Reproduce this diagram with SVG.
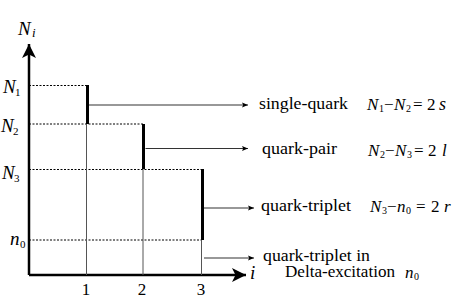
<svg xmlns="http://www.w3.org/2000/svg" width="459" height="300" viewBox="0 0 459 300">
<defs>
<style>
text{font-family:'Liberation Serif','DejaVu Serif',serif;fill:#000}
.lbl{font-size:16px}
.tick{font-size:17px}
.big{font-style:italic;font-size:19px}
.eq{font-style:italic;font-size:17px}
.up{font-style:normal}
.sb{font-size:11px;font-style:normal}
.ss{font-size:10px;font-style:normal}
.dash{stroke:#000;stroke-width:1;stroke-dasharray:2,1.5;fill:none}
.thin{stroke:#555;stroke-width:1;fill:none}
.thick{stroke:#000;stroke-width:3;fill:none}
.axis{stroke:#000;stroke-width:2.5;fill:none}
.conn{stroke:#333;stroke-width:1.2;fill:none}
</style>
<marker id="ah" viewBox="0 0 10 10" refX="10" refY="5" markerWidth="8" markerHeight="6" markerUnits="userSpaceOnUse" orient="auto">
<path d="M0,1 L10,5 L0,9 L2,5 Z" fill="#000"/>
</marker>
<marker id="big" viewBox="0 0 12 12" refX="12" refY="6" markerWidth="14" markerHeight="14" markerUnits="userSpaceOnUse" orient="auto">
<path d="M0,0 L12,6 L0,12 L3,6 Z" fill="#000"/>
</marker>
</defs>

<g id="axes">
<line class="axis" x1="29" y1="275" x2="29" y2="44" marker-end="url(#big)"/>
<line class="axis" x1="29" y1="275" x2="246" y2="275" marker-end="url(#big)"/>
<text class="big" x="18" y="35">N<tspan x="32" y="37" font-size="13px">i</tspan></text>
<text class="big" x="250" y="279" font-size="18px">i</text>
<text class="tick" x="86" y="295" text-anchor="middle">1</text>
<text class="tick" x="142" y="295" text-anchor="middle">2</text>
<text class="tick" x="201" y="295" text-anchor="middle">3</text>
</g>

<g id="levels">
<line class="dash" x1="29" y1="85.5" x2="87" y2="85.5"/>
<line class="dash" x1="29" y1="124" x2="143" y2="124"/>
<line class="dash" x1="29" y1="169.5" x2="202" y2="169.5"/>
<line class="dash" x1="29" y1="240" x2="202" y2="240"/>
<text class="big" x="3" y="93">N<tspan class="sb" x="15" y="96">1</tspan></text>
<text class="big" x="1" y="132">N<tspan class="sb" x="13" y="135">2</tspan></text>
<text class="big" x="2" y="179">N<tspan class="sb" x="14" y="182">3</tspan></text>
<text class="big" x="10" y="245">n<tspan class="sb" x="20" y="248">0</tspan></text>
</g>

<g id="columns">
<line class="thin" x1="86.5" y1="124" x2="86.5" y2="275"/>
<line class="thin" x1="143" y1="169" x2="143" y2="275"/>
<line class="thin" x1="201.5" y1="240" x2="201.5" y2="275"/>
</g>

<g id="single-quark">
<line class="thick" x1="87.5" y1="85" x2="87.5" y2="124"/>
<text class="lbl" x="259" y="109" textLength="89" lengthAdjust="spacingAndGlyphs">single-quark</text>
<text class="eq" x="367" y="110">N<tspan class="ss" x="379" y="112">1</tspan><tspan class="up" x="384" y="110">−</tspan><tspan x="394" y="110">N</tspan><tspan class="ss" x="406" y="112">2</tspan><tspan class="up" x="413" y="110">=</tspan><tspan class="up" x="427" y="110">2</tspan><tspan x="439" y="110" font-size="18px">s</tspan></text>
</g>

<g id="quark-pair">
<line class="thick" x1="143.5" y1="124" x2="143.5" y2="169"/>
<text class="lbl" x="262" y="154" textLength="75" lengthAdjust="spacingAndGlyphs">quark-pair</text>
<text class="eq" x="368" y="156">N<tspan class="ss" x="380" y="158">2</tspan><tspan class="up" x="385" y="156">−</tspan><tspan x="395" y="156">N</tspan><tspan class="ss" x="407" y="158">3</tspan><tspan class="up" x="414" y="156">=</tspan><tspan class="up" x="428" y="156">2</tspan><tspan x="442" y="156">l</tspan></text>
</g>

<g id="quark-triplet">
<line class="thick" x1="202.5" y1="169" x2="202.5" y2="240"/>
<text class="lbl" x="261" y="211" textLength="90" lengthAdjust="spacingAndGlyphs">quark-triplet</text>
<text class="eq" x="370" y="212">N<tspan class="ss" x="382" y="214">3</tspan><tspan class="up" x="387" y="212">−</tspan><tspan x="397" y="212">n</tspan><tspan class="ss" x="406" y="214">0</tspan><tspan class="up" x="416" y="212">=</tspan><tspan class="up" x="431" y="212">2</tspan><tspan x="444" y="212">r</tspan></text>
</g>

<g id="delta">
<text class="lbl" x="263" y="261" textLength="107" lengthAdjust="spacingAndGlyphs">quark-triplet in</text>
<text class="lbl" x="285" y="277" textLength="110" lengthAdjust="spacingAndGlyphs">Delta-excitation</text>
<text class="eq" x="405" y="278" font-size="18px">n<tspan class="ss" x="414" y="280">0</tspan></text>
</g>

<g id="connectors">
<line class="conn" x1="89" y1="105" x2="248" y2="105" marker-end="url(#ah)"/>
<line class="conn" x1="145.5" y1="148.5" x2="248" y2="148.5" marker-end="url(#ah)"/>
<line class="conn" x1="204" y1="208" x2="254" y2="208" marker-end="url(#ah)"/>
<line class="conn" x1="204" y1="258" x2="254" y2="258" marker-end="url(#ah)"/>
</g>
</svg>
